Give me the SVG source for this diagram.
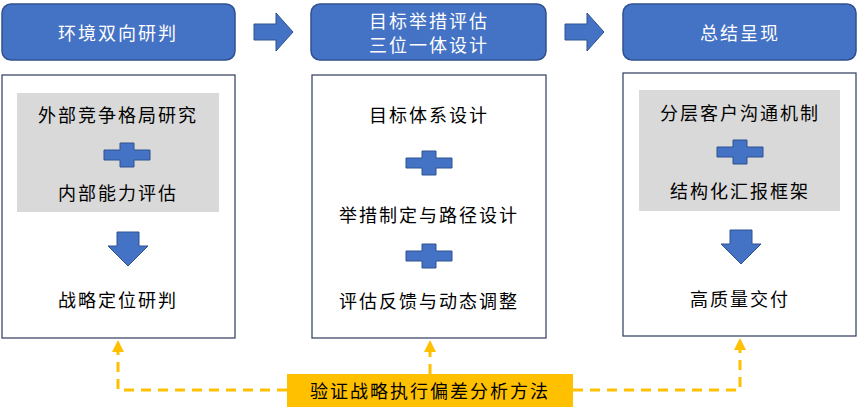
<svg xmlns="http://www.w3.org/2000/svg" width="858" height="416" viewBox="0 0 858 416">
<style>
text{font-family:"Noto Sans CJK SC",sans-serif;font-size:18px;text-anchor:middle;dominant-baseline:central;letter-spacing:2px}
.hd{fill:#4472c4;stroke:#2f528f;stroke-width:1.5}
.hd+text,.ht{fill:#fff}
.bd{fill:#fff;stroke:#2f3b5a;stroke-width:1.2}
.gr{fill:#d9d9d9}
.ic{fill:#4472c4;stroke:#2f528f;stroke-width:1}
.dl{fill:none;stroke:#ffc000;stroke-width:3;stroke-dasharray:10 7}
</style>
<defs>
<marker id="ya" markerWidth="4" markerHeight="4" refX="2" refY="2" orient="auto" markerUnits="strokeWidth"><path d="M0,0L4,2L0,4z" fill="#ffc000"/></marker>
<path id="plus" d="M-7,-12h14v7h16v10h-16v7h-14v-7h-16v-10h16z"/>
<path id="down" d="M-11,-17h22v14h9l-20,20l-20,-20h9z"/>
</defs>
<g id="n1">
<rect class="hd" x="2" y="4" width="233" height="56" rx="9"/>
<text class="ht" x="118" y="32">环境双向研判</text>
<rect class="bd" x="2" y="75" width="233" height="263"/>
<rect class="gr" x="17" y="93" width="202" height="119"/>
<text x="118" y="114">外部竞争格局研究</text>
<use href="#plus" class="ic" x="127" y="155"/>
<text x="118" y="192">内部能力评估</text>
<use href="#down" class="ic" x="128" y="249"/>
<text x="118" y="299">战略定位研判</text>
</g>
<g id="n2">
<rect class="hd" x="311" y="4" width="235" height="56" rx="9"/>
<text class="ht" x="429" y="20">目标举措评估</text>
<text class="ht" x="429" y="44">三位一体设计</text>
<rect class="bd" x="312" y="75" width="234" height="263"/>
<text x="429" y="114">目标体系设计</text>
<use href="#plus" class="ic" x="429" y="163"/>
<text x="429" y="214">举措制定与路径设计</text>
<use href="#plus" class="ic" x="429" y="256"/>
<text x="429" y="300">评估反馈与动态调整</text>
</g>
<g id="n3">
<rect class="hd" x="623" y="4" width="233" height="56" rx="9"/>
<text class="ht" x="740" y="32">总结呈现</text>
<rect class="bd" x="623" y="73" width="233" height="263"/>
<rect class="gr" x="639" y="90" width="201" height="121"/>
<text x="740" y="112">分层客户沟通机制</text>
<use href="#plus" class="ic" x="740" y="152"/>
<text x="740" y="190">结构化汇报框架</text>
<use href="#down" class="ic" x="741" y="247"/>
<text x="740" y="298">高质量交付</text>
</g>
<g id="n4">
<rect x="287" y="374" width="286" height="33" fill="#ffc000"/>
<text x="430" y="390">验证战略执行偏差分析方法</text>
</g>
<g id="connectors">
<path class="ic" d="M254,24h22v-11l17,19l-17,19v-11h-22z"/>
<path class="ic" d="M565,24h22v-11l17,19l-17,19v-11h-22z"/>
<path class="dl" d="M287,390H118V346" marker-end="url(#ya)"/>
<path class="dl" d="M573,390H740V344" marker-end="url(#ya)"/>
<path class="dl" d="M430,374V346" marker-end="url(#ya)"/>
</g>
</svg>
